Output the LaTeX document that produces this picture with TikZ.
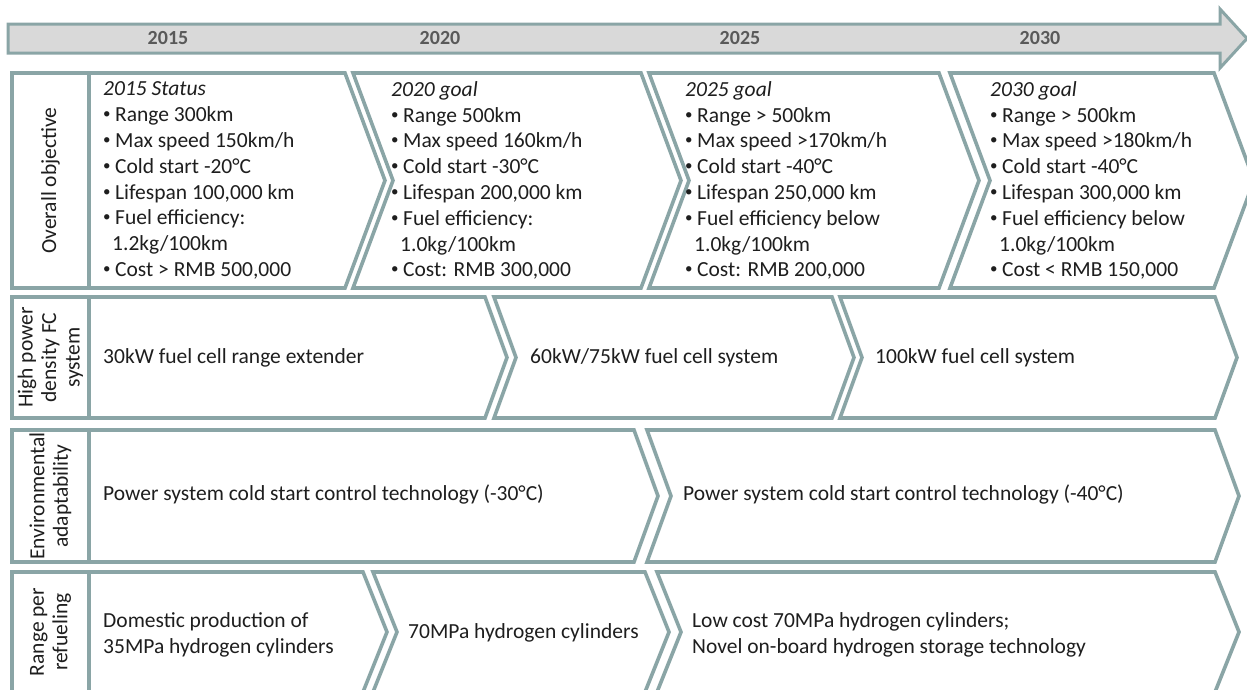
\documentclass[tikz,border=0pt]{standalone}
\usepackage{fontspec}
\setmainfont{Carlito}
\usepackage{tikz}
\definecolor{rim}{RGB}{138,165,166}
\definecolor{barfill}{RGB}{217,217,217}
\definecolor{yeargray}{RGB}{89,89,89}
\definecolor{ink}{RGB}{30,30,30}
\tikzset{
    chev/.style={draw=rim, line width=3.6pt, fill=white, line join=miter},
    txt/.style={anchor=west, inner sep=0pt, align=left, text=ink,
        font=\fontsize{21.5}{25.8}\selectfont},
    side/.style={rotate=90, inner sep=0pt, align=center, text=ink,
        font=\fontsize{21.5}{23.5}\selectfont},
    year/.style={inner sep=0pt, text=yeargray, font=\fontsize{20}{24}\selectfont\bfseries}
}
\newcommand{\bul}{\makebox[12pt][l]{\fontsize{15}{15}\selectfont\raisebox{3pt}{•}}}
\newcommand{\cont}{\hspace*{9pt}}
% first chevron of a row: left x, right x, top y, bottom y, depth
\newcommand{\chevstart}[5]{\draw[chev] (#1,#3) -- (#2,#3) -- (#2+#5,{(#3+#4)/2}) -- (#2,#4) -- (#1,#4) -- cycle;}
% following chevron with a notch
\newcommand{\chevstep}[5]{\draw[chev] (#1,#3) -- (#2,#3) -- (#2+#5,{(#3+#4)/2}) -- (#2,#4) -- (#1,#4) -- (#1+#5,{(#3+#4)/2}) -- cycle;}

\begin{document}
\begin{tikzpicture}[x=1pt, y=-1pt]
    \useasboundingbox (0,0) rectangle (1247,689);
    \clip (0,0) rectangle (1247,689);

    % time line
    \draw[chev, fill=barfill, line width=3pt] (8,24) -- (1220,24) -- (1220,9) -- (1247,38.5) -- (1220,68) -- (1220,53) -- (8,53) -- cycle;
    \node (y2015) [year] at (168,38.5) {2015};
    \node (y2020) [year] at (440,38.5) {2020};
    \node (y2025) [year] at (740,38.5) {2025};
    \node (y2030) [year] at (1040,38.5) {2030};

    % overall objective
    \chevstart{89}{345}{73}{288}{40}
    \chevstep{353}{641}{73}{288}{40}
    \chevstep{649}{939}{73}{288}{40}
    \chevstep{950}{1214}{73}{288}{40}
    \draw[chev] (12,73) rectangle (89,288);
    \node (obj) [side] at (50.5,180.5) {Overall objective};
    \node (s2015) [txt] at (103,180.5) {\textit{2015 Status}\\ \bul Range 300km\\ \bul Max speed 150km/h\\ \bul Cold start -20°C\\ \bul Lifespan 100,000 km\\ \bul Fuel efficiency:\\ \cont 1.2kg/100km\\ \bul Cost > RMB 500,000};
    \node (g2020) [txt] at (391,180.5) {\textit{2020 goal}\\ \bul Range 500km\\ \bul Max speed 160km/h\\ \bul Cold start -30°C\\ \bul Lifespan 200,000 km\\ \bul Fuel efficiency:\\ \cont 1.0kg/100km\\ \bul Cost: RMB 300,000};
    \node (g2025) [txt] at (685,180.5) {\textit{2025 goal}\\ \bul Range > 500km\\ \bul Max speed >170km/h\\ \bul Cold start -40°C\\ \bul Lifespan 250,000 km\\ \bul Fuel efficiency below\\ \cont 1.0kg/100km\\ \bul Cost: RMB 200,000};
    \node (g2030) [txt] at (990,180.5) {\textit{2030 goal}\\ \bul Range > 500km\\ \bul Max speed >180km/h\\ \bul Cold start -40°C\\ \bul Lifespan 300,000 km\\ \bul Fuel efficiency below\\ \cont 1.0kg/100km\\ \bul Cost < RMB 150,000};

    % fuel cell system
    \chevstart{89}{485}{297}{418}{22}
    \chevstep{494}{832}{297}{418}{22}
    \chevstep{840}{1215}{297}{418}{22}
    \draw[chev] (12,297) rectangle (89,418);
    \node (fc) [side] at (50.5,357.5) {High power\\ density FC\\ system};
    \node (fc30) [txt] at (103,357.5) {30kW fuel cell range extender};
    \node (fc60) [txt] at (530,357.5) {60kW/75kW fuel cell system};
    \node (fc100) [txt] at (875,357.5) {100kW fuel cell system};

    % environmental adaptability
    \chevstart{89}{634}{430}{562}{24}
    \chevstep{647}{1215}{430}{562}{24}
    \draw[chev] (12,430) rectangle (89,562);
    \node (env) [side] at (50.5,496) {Environmental\\ adaptability};
    \node (cs30) [txt] at (103,494) {Power system cold start control technology (-30°C)};
    \node (cs40) [txt] at (683,494) {Power system cold start control technology (-40°C)};

    % range per refueling
    \chevstart{89}{363}{572}{692}{24}
    \chevstep{373}{645}{572}{692}{24}
    \chevstep{657}{1215}{572}{692}{24}
    \draw[chev] (12,572) rectangle (89,692);
    \node (rng) [side] at (50.5,632) {Range per\\ refueling};
    \node (h35) [txt] at (103,634.5) {Domestic production of\\ 35MPa hydrogen cylinders};
    \node (h70) [txt] at (408,633) {70MPa hydrogen cylinders};
    \node (hnew) [txt] at (692,634.5) {Low cost 70MPa hydrogen cylinders;\\ Novel on-board hydrogen storage technology};
\end{tikzpicture}
\end{document}
